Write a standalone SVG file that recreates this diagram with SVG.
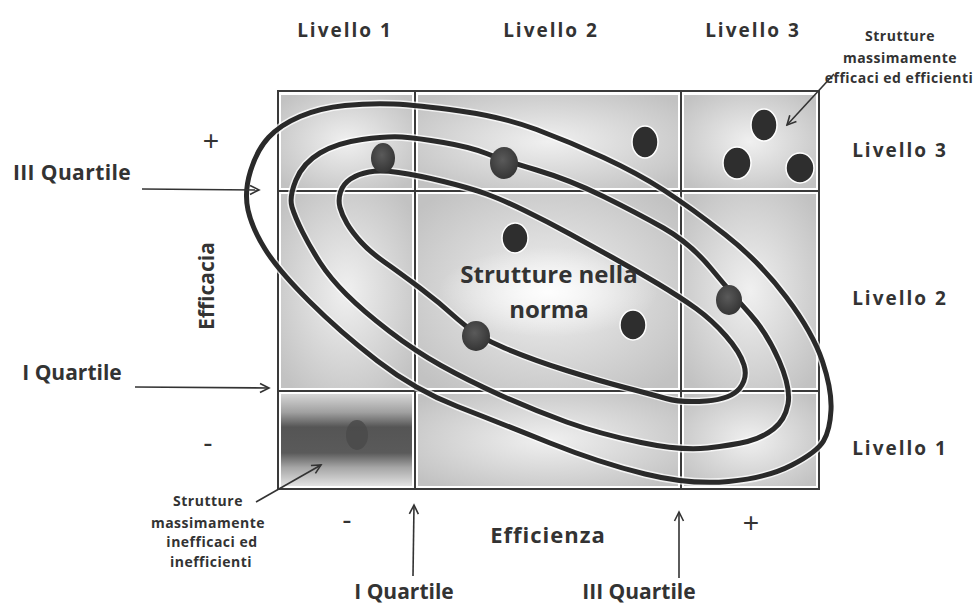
<svg xmlns="http://www.w3.org/2000/svg" width="975" height="607" viewBox="0 0 975 607">
<style>
.lbl{font-family:"Open Sans","Liberation Sans",sans-serif;font-weight:bold;fill:#333}
.lv{font-size:19px;letter-spacing:2px}
.qt{font-size:21px}
.ann{font-size:14px;letter-spacing:0.5px}
.sign{font-family:"Liberation Sans",sans-serif;fill:#333;font-size:28px}
.cell{fill:url(#cellg)}
.grid{stroke:#3a3a3a;stroke-width:2;fill:none}
.halo{fill:none;stroke:#ffffff;stroke-width:8;stroke-opacity:0.75}
.loop{fill:none;stroke:#2a2a2a;stroke-width:5}
.dot{fill:#2e2e2e;stroke:#fff;stroke-width:1.5}
.dotl{fill:url(#dotg)}
.arr{stroke:#333;stroke-width:1.6;fill:none;marker-end:url(#ah)}
</style>
<defs>
<radialGradient id="cellg" cx="50%" cy="50%" r="65%">
<stop offset="0" stop-color="#f0f0f0"/>
<stop offset="1" stop-color="#c2c2c2"/>
</radialGradient>
<linearGradient id="bandg" x1="0" y1="0" x2="0" y2="1">
<stop offset="0" stop-color="#d6d6d6"/>
<stop offset="0.2" stop-color="#a0a0a0"/>
<stop offset="0.36" stop-color="#555555"/>
<stop offset="0.64" stop-color="#5a5a5a"/>
<stop offset="0.8" stop-color="#a6a6a6"/>
<stop offset="1" stop-color="#e2e2e2"/>
</linearGradient>
<radialGradient id="dotg" cx="45%" cy="40%" r="60%">
<stop offset="0" stop-color="#5a5a5a"/>
<stop offset="1" stop-color="#353535"/>
</radialGradient>
<radialGradient id="glow" cx="50%" cy="50%" r="50%">
<stop offset="0" stop-color="#ffffff" stop-opacity="0.9"/>
<stop offset="1" stop-color="#ffffff" stop-opacity="0"/>
</radialGradient>
<marker id="ah" markerUnits="userSpaceOnUse" markerWidth="12" markerHeight="12" refX="10" refY="6" orient="auto">
<path d="M1,1.5 L10,6 L1,10.5" fill="none" stroke="#333" stroke-width="1.6"/>
</marker>
</defs>
<rect width="975" height="607" fill="#fff"/>

<g id="matrix">
<rect class="cell" x="281" y="95" width="131" height="93"/>
<rect class="cell" x="418" y="95" width="260" height="93"/>
<rect class="cell" x="684" y="95" width="132" height="93"/>
<rect class="cell" x="281" y="194" width="131" height="194"/>
<rect class="cell" x="418" y="194" width="260" height="194"/>
<rect class="cell" x="684" y="194" width="132" height="194"/>
<rect x="281" y="394" width="131" height="92" fill="url(#bandg)"/>
<rect class="cell" x="418" y="394" width="260" height="92"/>
<rect class="cell" x="684" y="394" width="132" height="92"/>
<ellipse cx="548" cy="292" rx="110" ry="45" fill="url(#glow)"/>
<rect class="grid" x="278" y="91" width="541" height="398" stroke-width="2.5"/>
<line class="grid" x1="415" y1="91" x2="415" y2="489"/>
<line class="grid" x1="681" y1="91" x2="681" y2="489"/>
<line class="grid" x1="278" y1="191" x2="819" y2="191"/>
<line class="grid" x1="278" y1="391" x2="819" y2="391"/>
</g>

<g id="loops">
<path id="outer-halo" class="halo" d="M 248,210 Q 244,192 250.5,171 Q 257,150 268.5,137.5 Q 280,125 300,116.5 Q 320,108 345,105.5 Q 370,103 393.5,104 Q 417,105 460,111 Q 503,117 536.5,129.5 Q 570,142 603.5,157.5 Q 637,173 663.5,190 Q 690,207 725,234.5 Q 760,262 786.5,297.5 Q 813,333 822.5,361.5 Q 832,390 831,410 Q 830,430 823.5,441 Q 817,452 792,465 Q 767,478 728.5,481.5 Q 690,485 645,474 Q 600,463 550,443 Q 500,423 457.5,406.5 Q 415,390 377.5,361 Q 340,332 309,301 Q 278,270 265,249 Q 252,228 248,210 Z"/>
<path id="middle-halo" class="halo" d="M 292,207 Q 289,197 296,180 Q 303,163 320,153 Q 337,143 362,139.5 Q 387,136 402,137 Q 417,138 443.5,142.5 Q 470,147 486.5,153.5 Q 503,160 536.5,170 Q 570,180 603.5,196.5 Q 637,213 663.5,228 Q 690,243 711.5,269 Q 733,295 750,314 Q 767,333 779,360.5 Q 791,388 788,404 Q 785,420 773.5,429 Q 762,438 747.5,441.5 Q 733,445 707.5,448 Q 682,451 641,442.5 Q 600,434 566.5,422 Q 533,410 500,395 Q 467,380 441,365.5 Q 415,351 389,331 Q 363,311 346.5,294.5 Q 330,278 320,262.5 Q 310,247 302.5,232 Q 295,217 292,207 Z"/>
<path id="inner-halo" class="halo" d="M 340,207.5 Q 338,200 340.5,192 Q 343,184 350.5,179 Q 358,174 369,172 Q 380,170 398.5,172.5 Q 417,175 443.5,181.5 Q 470,188 486.5,194 Q 503,200 525.5,211 Q 548,222 569,233.5 Q 590,245 612.5,257.5 Q 635,270 657.5,283.5 Q 680,297 696,308.5 Q 712,320 726,336 Q 740,352 744,365 Q 748,378 739.5,388.5 Q 731,399 706.5,401 Q 682,403 666,398.5 Q 650,394 625,387.5 Q 600,381 566.5,370.5 Q 533,360 504.5,348 Q 476,336 458,319.5 Q 440,303 420,288 Q 400,273 385,262.5 Q 370,252 361,242 Q 352,232 347,223.5 Q 342,215 340,207.5 Z"/>
<path id="outer" class="loop" d="M 248,210 Q 244,192 250.5,171 Q 257,150 268.5,137.5 Q 280,125 300,116.5 Q 320,108 345,105.5 Q 370,103 393.5,104 Q 417,105 460,111 Q 503,117 536.5,129.5 Q 570,142 603.5,157.5 Q 637,173 663.5,190 Q 690,207 725,234.5 Q 760,262 786.5,297.5 Q 813,333 822.5,361.5 Q 832,390 831,410 Q 830,430 823.5,441 Q 817,452 792,465 Q 767,478 728.5,481.5 Q 690,485 645,474 Q 600,463 550,443 Q 500,423 457.5,406.5 Q 415,390 377.5,361 Q 340,332 309,301 Q 278,270 265,249 Q 252,228 248,210 Z"/>
<path id="middle" class="loop" d="M 292,207 Q 289,197 296,180 Q 303,163 320,153 Q 337,143 362,139.5 Q 387,136 402,137 Q 417,138 443.5,142.5 Q 470,147 486.5,153.5 Q 503,160 536.5,170 Q 570,180 603.5,196.5 Q 637,213 663.5,228 Q 690,243 711.5,269 Q 733,295 750,314 Q 767,333 779,360.5 Q 791,388 788,404 Q 785,420 773.5,429 Q 762,438 747.5,441.5 Q 733,445 707.5,448 Q 682,451 641,442.5 Q 600,434 566.5,422 Q 533,410 500,395 Q 467,380 441,365.5 Q 415,351 389,331 Q 363,311 346.5,294.5 Q 330,278 320,262.5 Q 310,247 302.5,232 Q 295,217 292,207 Z"/>
<path id="inner" class="loop" d="M 340,207.5 Q 338,200 340.5,192 Q 343,184 350.5,179 Q 358,174 369,172 Q 380,170 398.5,172.5 Q 417,175 443.5,181.5 Q 470,188 486.5,194 Q 503,200 525.5,211 Q 548,222 569,233.5 Q 590,245 612.5,257.5 Q 635,270 657.5,283.5 Q 680,297 696,308.5 Q 712,320 726,336 Q 740,352 744,365 Q 748,378 739.5,388.5 Q 731,399 706.5,401 Q 682,403 666,398.5 Q 650,394 625,387.5 Q 600,381 566.5,370.5 Q 533,360 504.5,348 Q 476,336 458,319.5 Q 440,303 420,288 Q 400,273 385,262.5 Q 370,252 361,242 Q 352,232 347,223.5 Q 342,215 340,207.5 Z"/>
</g>

<g id="dots">
<ellipse class="dotl" cx="383" cy="158" rx="12" ry="15"/>
<ellipse class="dotl" cx="504" cy="163" rx="14" ry="16"/>
<ellipse class="dot" cx="645" cy="142" rx="13" ry="16"/>
<ellipse class="dot" cx="515" cy="238" rx="13" ry="15"/>
<ellipse class="dotl" cx="476" cy="336" rx="14" ry="15"/>
<ellipse class="dot" cx="633" cy="325" rx="13" ry="15"/>
<ellipse class="dotl" cx="729" cy="300" rx="13" ry="15"/>
<ellipse class="dot" cx="764" cy="125" rx="13" ry="16"/>
<ellipse class="dot" cx="737" cy="163" rx="14" ry="16"/>
<ellipse class="dot" cx="800" cy="168" rx="14" ry="15"/>
<ellipse cx="357" cy="435" rx="11" ry="15" fill="#4a4a4a" opacity="0.85"/>
</g>

<g id="level-labels-top">
<text class="lbl lv" x="345" y="37" text-anchor="middle">Livello 1</text>
<text class="lbl lv" x="551" y="37" text-anchor="middle">Livello 2</text>
<text class="lbl lv" x="753" y="37" text-anchor="middle">Livello 3</text>
</g>
<g id="level-labels-right">
<text class="lbl lv" x="900" y="157" text-anchor="middle">Livello 3</text>
<text class="lbl lv" x="900" y="305" text-anchor="middle">Livello 2</text>
<text class="lbl lv" x="900" y="455" text-anchor="middle">Livello 1</text>
</g>

<g id="axis-y">
<text class="sign" x="211" y="150" text-anchor="middle" font-size="30">+</text>
<text class="lbl" x="214" y="286" font-size="21" text-anchor="middle" transform="rotate(-90 214 286)">Efficacia</text>
<text class="sign" x="208" y="452" text-anchor="middle" font-size="36">-</text>
</g>
<g id="axis-x">
<text class="sign" x="347" y="529" text-anchor="middle" font-size="36">-</text>
<text class="lbl" x="548" y="543" font-size="22" letter-spacing="1" text-anchor="middle">Efficienza</text>
<text class="sign" x="751" y="532" text-anchor="middle" font-size="30">+</text>
</g>

<g id="quartile-labels">
<text class="lbl qt" x="72" y="180" text-anchor="middle" letter-spacing="0.4">III Quartile</text>
<text class="lbl qt" x="72" y="380" text-anchor="middle">I Quartile</text>
<text class="lbl qt" x="404" y="599" text-anchor="middle">I Quartile</text>
<text class="lbl qt" x="639" y="599" text-anchor="middle">III Quartile</text>
</g>

<g id="center-label">
<text class="lbl" x="549" y="283" font-size="24" text-anchor="middle">Strutture nella</text>
<text class="lbl" x="549" y="318" font-size="24" text-anchor="middle">norma</text>
</g>

<g id="annotation-top">
<text class="lbl ann" x="900" y="41" text-anchor="middle">Strutture</text>
<text class="lbl ann" x="900" y="63" text-anchor="middle">massimamente</text>
<text class="lbl ann" x="899" y="83" text-anchor="middle">efficaci ed efficienti</text>
</g>
<g id="annotation-bottom">
<text class="lbl ann" x="208" y="506" text-anchor="middle">Strutture</text>
<text class="lbl ann" x="208" y="528" text-anchor="middle">massimamente</text>
<text class="lbl ann" x="212" y="547" text-anchor="middle">inefficaci ed</text>
<text class="lbl ann" x="211" y="567" text-anchor="middle">inefficienti</text>
</g>

<g id="connectors">
<line class="arr" x1="142" y1="189" x2="259" y2="190"/>
<line class="arr" x1="135" y1="387" x2="269" y2="388"/>
<line class="arr" x1="413" y1="576" x2="414" y2="505"/>
<line class="arr" x1="679" y1="578" x2="679" y2="512"/>
<line class="arr" x1="834" y1="74" x2="787" y2="125"/>
<line class="arr" x1="256" y1="502" x2="321" y2="465"/>
</g>
</svg>
